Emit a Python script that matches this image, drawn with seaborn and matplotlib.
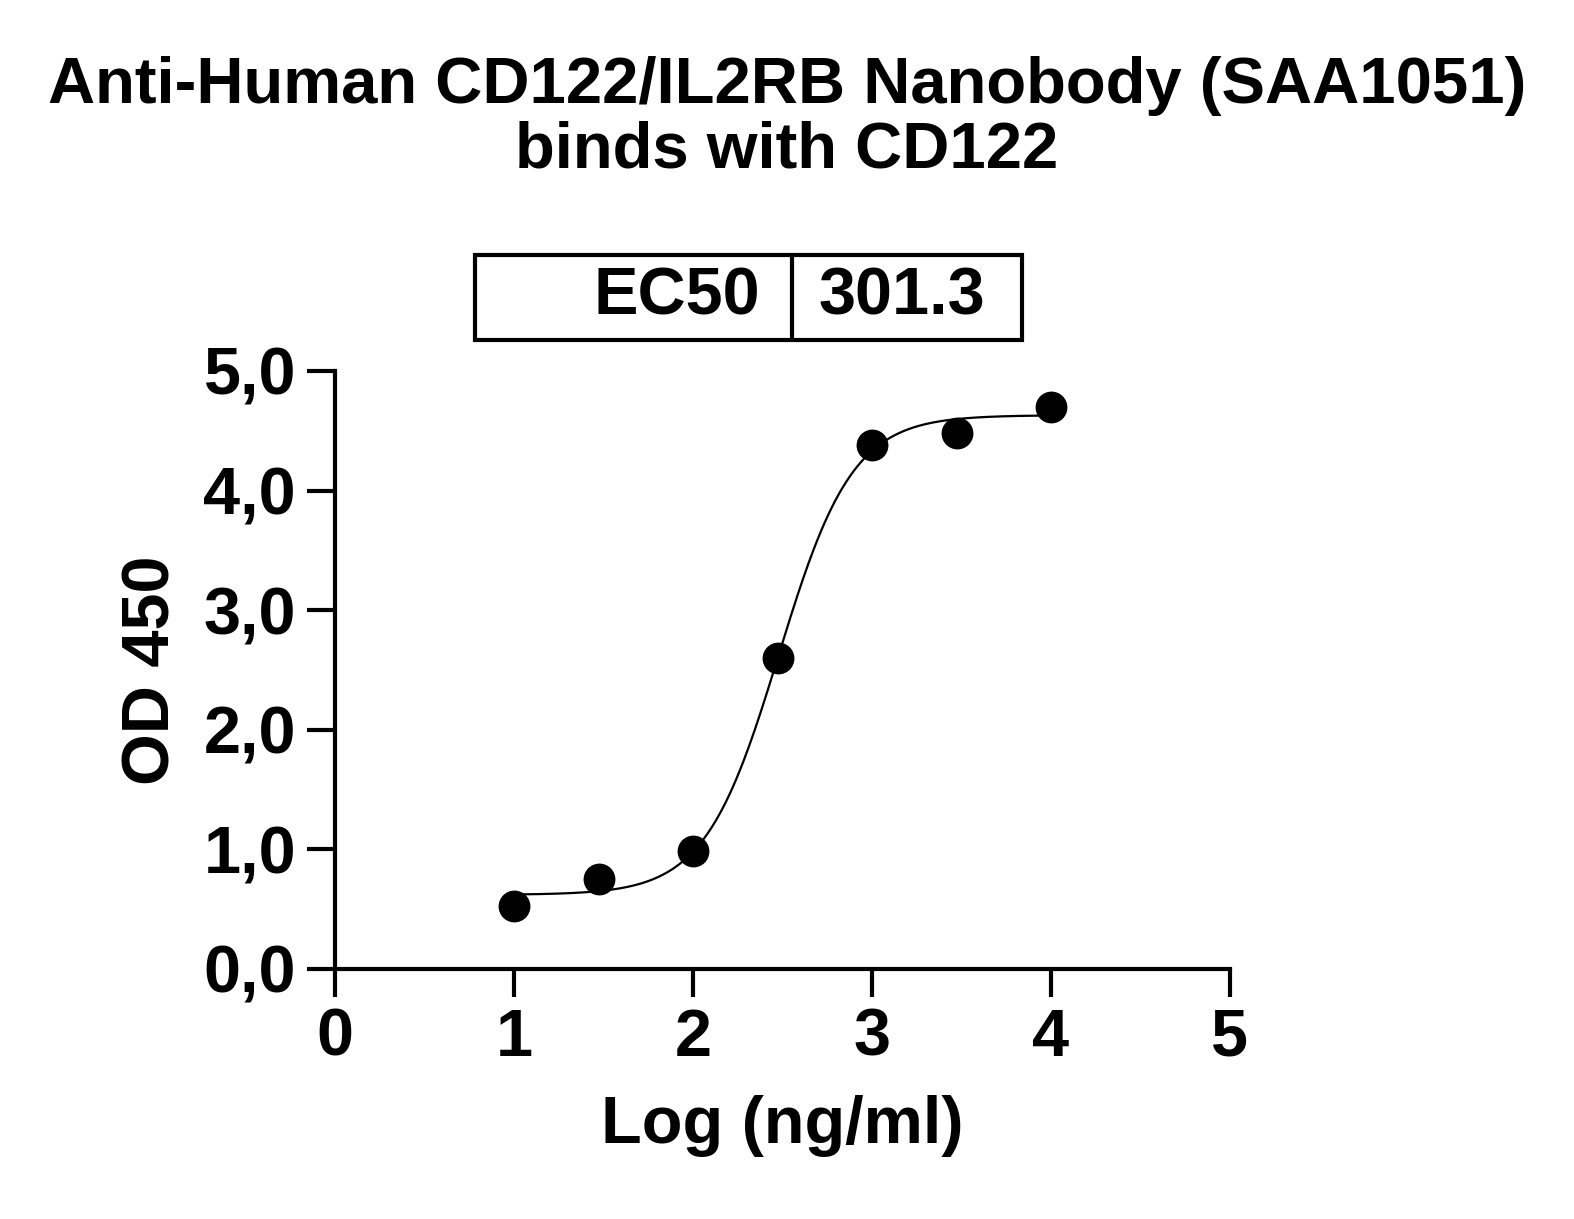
import numpy as np
import matplotlib
matplotlib.use("Agg")
import matplotlib.pyplot as plt
import seaborn as sns
from matplotlib.patches import Rectangle
from matplotlib.ticker import FuncFormatter

# ── data ──────────────────────────────────────────────────────────────────────
log_conc = [1.0, 1.477, 2.0, 2.477, 3.0, 3.477, 4.0]
od450 = [0.53, 0.75, 0.99, 2.60, 4.38, 4.48, 4.70]

# 4PL fit parameters
fit_bottom = 0.62
fit_top = 4.63
fit_logec50 = np.log10(301.3)
fit_hill = 2.1
ec50_label = "301.3"

x_ticks = [0, 1, 2, 3, 4, 5]
y_ticks = [0, 1, 2, 3, 4, 5]

# ── plot ──────────────────────────────────────────────────────────────────────
sns.set_style("ticks")
plt.rcParams["font.family"] = ["Liberation Sans", "DejaVu Sans"]
plt.rcParams["font.weight"] = "bold"
plt.rcParams["text.color"] = "black"
plt.rcParams["axes.labelcolor"] = "black"
plt.rcParams["xtick.color"] = "black"
plt.rcParams["ytick.color"] = "black"
plt.rcParams["axes.edgecolor"] = "black"

fig = plt.figure(figsize=(15.74, 12.19), dpi=100)
ax = fig.add_axes([0.2128, 0.2051, 0.5686, 0.4906])

xs = np.linspace(1.0, 4.0, 300)
ys = fit_bottom + (fit_top - fit_bottom) / (1 + 10 ** ((fit_logec50 - xs) * fit_hill))
sns.lineplot(x=xs, y=ys, ax=ax, color="black", linewidth=1.6)
sns.scatterplot(x=log_conc, y=od450, ax=ax, color="black", s=450,
                edgecolor="black", zorder=3, clip_on=False)

ax.set_xlim(0, 5)
ax.set_ylim(0, 5)
ax.set_xticks(x_ticks)
ax.set_yticks(y_ticks)
ax.yaxis.set_major_formatter(FuncFormatter(lambda v, p: f"{v:.1f}".replace(".", ",")))
ax.tick_params(width=3, length=20, labelsize=48, direction="out", pad=8,
               colors="black")
for lab in ax.get_xticklabels() + ax.get_yticklabels():
    lab.set_fontweight("bold")
for side in ("top", "right"):
    ax.spines[side].set_visible(False)
for side in ("left", "bottom"):
    ax.spines[side].set_linewidth(3)

ax.set_xlabel("Log (ng/ml)", fontsize=48, fontweight="bold", labelpad=18)
ax.set_ylabel("OD 450", fontsize=48, fontweight="bold", labelpad=14)

fig.text(0.5, 0.903, "Anti-Human CD122/IL2RB Nanobody (SAA1051)\nbinds with CD122",
         ha="center", va="center", fontsize=47, fontweight="bold", linespacing=1.1)

# EC50 box
bx0, bx1, bdiv = 475 / 1574, 1022 / 1574, 792 / 1574
by0, by1 = 1 - 340 / 1219, 1 - 255 / 1219
fig.patches.append(Rectangle((bx0, by0), bx1 - bx0, by1 - by0, transform=fig.transFigure,
                             fill=False, edgecolor="black", linewidth=3))
fig.lines.append(plt.Line2D([bdiv, bdiv], [by0, by1], transform=fig.transFigure,
                            color="black", linewidth=3))
ymid = (by0 + by1) / 2
fig.text(bdiv - 0.02, ymid, "EC50", ha="right", va="center", fontsize=48, fontweight="bold")
fig.text((bdiv + bx1) / 2 - 0.003, ymid, ec50_label, ha="center", va="center",
         fontsize=48, fontweight="bold")

fig.savefig("out.png", dpi=100)
